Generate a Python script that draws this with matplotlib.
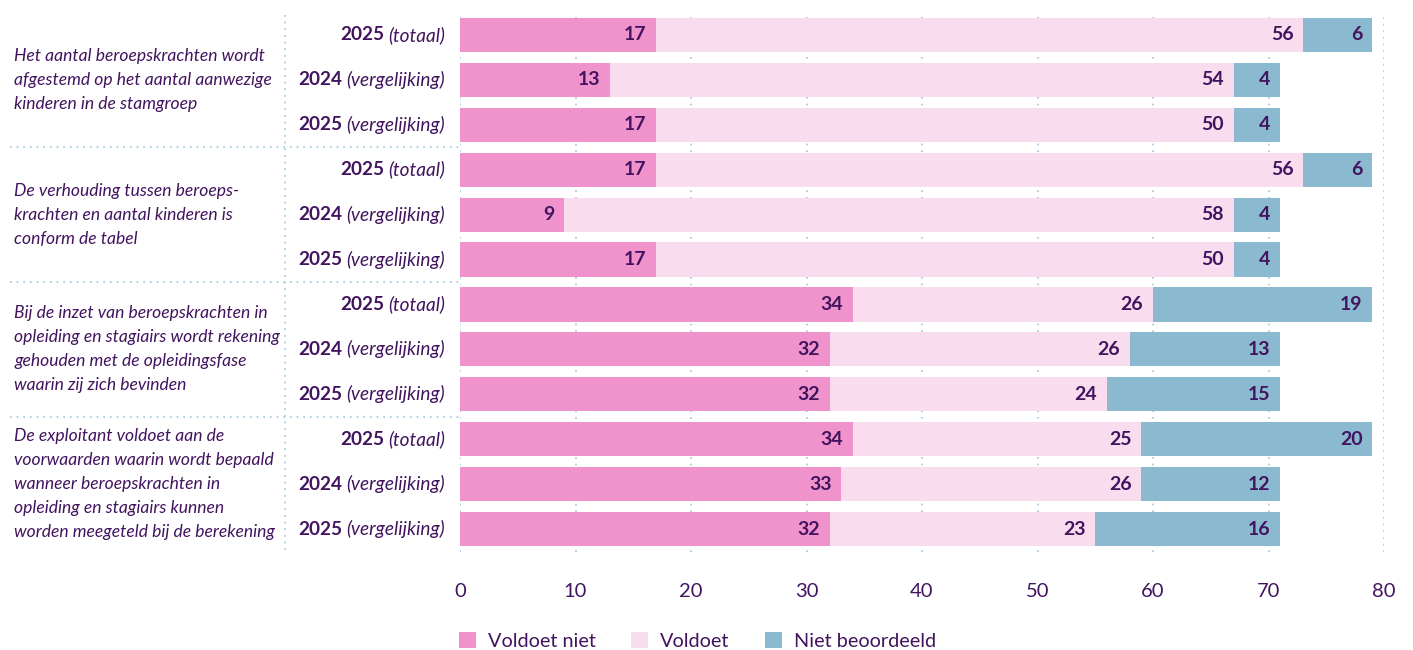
import matplotlib.pyplot as plt
import matplotlib.transforms as mtransforms

plt.rcParams['font.family'] = ['Lato', 'DejaVu Sans']

# Data
questions = [
    "Het aantal beroepskrachten wordt\nafgestemd op het aantal aanwezige\nkinderen in de stamgroep",
    "De verhouding tussen beroeps-\nkrachten en aantal kinderen is\nconform de tabel",
    "Bij de inzet van beroepskrachten in\nopleiding en stagiairs wordt rekening\ngehouden met de opleidingsfase\nwaarin zij zich bevinden",
    "De exploitant voldoet aan de\nvoorwaarden waarin wordt bepaald\nwanneer beroepskrachten in\nopleiding en stagiairs kunnen\nworden meegeteld bij de berekening",
]
row_years = ["2025", "2024", "2025"]
row_kinds = ["(totaal)", "(vergelijking)", "(vergelijking)"]

voldoet_niet = [17, 13, 17, 17, 9, 17, 34, 32, 32, 34, 33, 32]
voldoet = [56, 54, 50, 56, 58, 50, 26, 26, 24, 25, 26, 23]
niet_beoordeeld = [6, 4, 4, 6, 4, 4, 19, 13, 15, 20, 12, 16]

series_names = ["Voldoet niet", "Voldoet", "Niet beoordeeld"]
colors = ["#F092CB", "#FADCEF", "#8BB9D0"]
text_color = "#42145F"
grid_color = "#9CC8DC"

fig = plt.figure(figsize=(14.13, 6.5), dpi=100)
ax = fig.add_axes([460 / 1413, 1 - 551.5 / 650, 924 / 1413, 539 / 650])

ypos = list(range(len(voldoet_niet)))
left = [0] * len(ypos)
for vals, name, col in zip([voldoet_niet, voldoet, niet_beoordeeld], series_names, colors):
    bars = ax.barh(ypos, vals, left=left, height=0.76, color=col, label=name, zorder=2)
    for b, v in zip(bars, vals):
        ax.annotate(str(v), xy=(b.get_x() + b.get_width(), b.get_y() + b.get_height() / 2),
                    xytext=(-7, 0), textcoords='offset points', ha='right', va='center',
                    fontsize=14, fontweight='bold', color=text_color, zorder=3)
    left = [l + v for l, v in zip(left, vals)]

ax.set_xlim(0, 80)
ax.set_ylim(11.5, -0.5)
ax.set_xticks(range(0, 81, 10))
ax.set_yticks([])
ax.tick_params(axis='x', length=0, pad=23, labelsize=14.5, labelcolor=text_color)
for s in ax.spines.values():
    s.set_visible(False)
ax.grid(axis='x', color=grid_color, linestyle=(0, (1, 3)), linewidth=1.2, zorder=0)

# row labels: bold year + italic kind
trans = mtransforms.blended_transform_factory(ax.transAxes, ax.transData)
for i in ypos:
    t = ax.text(-15 / 924, i, row_kinds[i % 3], transform=trans, ha='right', va='center',
                fontsize=13.7, style='italic', color=text_color)
    ax.annotate(row_years[i % 3], xy=(0, 0.5), xycoords=t, xytext=(-3, 0),
                textcoords='offset points', ha='right', va='center',
                fontsize=13.7, fontweight='bold', color=text_color)

# question texts and separators
for g, q in enumerate(questions):
    ax.text(-446 / 924, g * 3 + 1, q, transform=trans, ha='left', va='center',
            fontsize=12.6, style='italic', color=text_color, linespacing=1.62)
    if g > 0:
        ax.plot([-450 / 924, 0], [g * 3 - 0.5] * 2, transform=trans, clip_on=False,
                color=grid_color, linestyle=(0, (1, 3)), linewidth=1.2)
ax.plot([-175 / 924] * 2, [-0.45, 11.5], transform=trans, clip_on=False,
        color=grid_color, linestyle=(0, (1, 3)), linewidth=1.2)

leg = fig.legend(loc='center left', bbox_to_anchor=(441 / 1413, 1 - 641 / 650), ncol=3,
                 frameon=False, handlelength=0.85, handleheight=0.85, columnspacing=1.8,
                 handletextpad=0.6, fontsize=14.3)
for txt in leg.get_texts():
    txt.set_color(text_color)

fig.savefig("out.png", dpi=100)
